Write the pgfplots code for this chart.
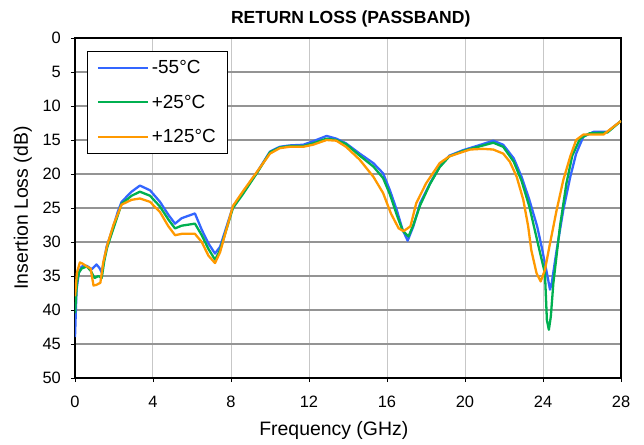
\documentclass[border=0pt]{standalone}
\usepackage{fontspec}
\setmainfont{Liberation Sans}
\usepackage{pgfplots}
\pgfplotsset{compat=1.18}
\definecolor{cBlue}{RGB}{51,102,255}
\definecolor{cGreen}{RGB}{0,176,80}
\definecolor{cOrange}{RGB}{255,153,0}
\begin{document}
\begin{tikzpicture}
\useasboundingbox (-75bp,-67bp) rectangle (569bp,378bp);
\begin{axis}[
  at={(0,0)}, anchor=south west,
  scale only axis, width=546bp, height=340bp,
  xmin=0, xmax=28, ymin=0, ymax=50, y dir=reverse,
  xtick={0,4,...,28}, ytick={0,5,...,50},
  tick pos=left, tick align=outside, major tick length=4bp,
  tick style={black, line width=0.9bp},
  axis line style={black, line width=1.8bp},
  grid=major,
  x grid style={black!22, line width=1bp},
  y grid style={black!42, line width=1.6bp},
  /pgf/number format/assume math mode=true,
  ticklabel style={font=\fontsize{16.5}{18}\selectfont},
  xticklabel style={anchor=base, yshift=-25bp},
  yticklabel style={anchor=east, inner sep=0pt, xshift=-10bp},
  title={RETURN LOSS (PASSBAND)},
  title style={font=\bfseries\fontsize{17.6}{20}\selectfont, anchor=base, at={(axis description cs:0.505,1)}, yshift=9bp},
  xlabel={Frequency (GHz)},
  xlabel style={font=\fontsize{19.5}{22}\selectfont, anchor=base, at={(axis description cs:0.474,0)}, yshift=-57.7bp},
  ylabel={Insertion Loss (dB)},
  ylabel style={font=\fontsize{19.5}{22}\selectfont, anchor=base, at={(axis description cs:-0.0861,0.5)}},
  legend style={at={(axis description cs:0.022,0.963)}, anchor=north west, draw=black, line width=1.4bp,
    font=\fontsize{19}{19}\selectfont, inner xsep=9bp, inner ysep=6bp, row sep=14bp, column sep=0bp,
    nodes={inner sep=3bp}},
  legend cell align=left,
  legend image code/.code={\draw[#1, line width=2.2bp] (0bp,0bp) -- (50bp,0bp);},
]
\addplot[cBlue, line width=2.3bp, line join=round] coordinates {
(0,44) (0.08,37) (0.2,34.5) (0.34,33.6) (0.6,33.5) (0.86,34) (1.1,33.3) (1.25,33.8) (1.37,34.5) (1.5,32.5) (1.62,30.7) (1.97,27.7) (2.2,25.5) (2.39,24.1) (2.9,22.6) (3.33,21.7) (3.85,22.4) (4.36,24.1) (4.79,26) (5.13,27.3) (5.47,26.5) (6.15,25.8) (6.5,28.2) (6.84,30.2) (7.18,31.7) (7.44,30.7) (8.1,24.8) (8.6,22.8) (9.3,19.9) (10,16.7) (10.5,16.0) (11.0,15.8) (11.7,15.7) (12.2,15.2) (12.9,14.4) (13.4,14.8) (13.9,15.5) (14.6,17) (15.3,18.4) (15.8,19.9) (16.15,22.4) (16.5,25.3) (16.8,28.2) (17.06,29.8) (17.35,27.7) (17.7,24.3) (18.2,21.4) (18.7,18.9) (19.2,17.3) (19.9,16.5) (20.8,15.7) (21.45,15.1) (21.96,15.7) (22.5,17.7) (22.9,20.4) (23.3,23.8) (23.7,27.7) (23.93,30.7) (24.2,34.6) (24.36,37) (24.45,36) (24.7,31.2) (25.04,25.3) (25.4,20.4) (25.7,17) (26.07,14.5) (26.6,13.8) (27.3,13.8) (28,12.2)
};
\addlegendentry{-55°C}
\addplot[cGreen, line width=2.3bp, line join=round] coordinates {
(0,40.5) (0.1,36) (0.2,34.5) (0.34,33.9) (0.6,33.6) (0.8,34.2) (1.0,35.3) (1.2,35.0) (1.37,35.3) (1.5,32.8) (1.65,30.8) (1.97,28) (2.39,24.4) (2.9,23.2) (3.33,22.6) (3.85,23.2) (4.36,24.8) (4.79,26.7) (5.13,28.0) (5.47,27.6) (6.15,27.3) (6.5,29.0) (6.84,31.0) (7.18,32.6) (7.44,31.2) (8.1,25.0) (8.6,23.0) (9.3,20.0) (10,16.8) (10.5,16.1) (11.0,15.9) (11.7,15.9) (12.2,15.5) (12.9,14.8) (13.4,15.0) (13.9,15.6) (14.6,17.3) (15.3,18.9) (15.8,20.6) (16.15,23.0) (16.5,26) (16.8,28.3) (17.1,29.2) (17.35,27.5) (17.7,24.6) (18.2,21.5) (18.7,19) (19.2,17.4) (19.9,16.6) (20.8,15.9) (21.45,15.4) (21.96,16.0) (22.5,18.2) (22.9,21.0) (23.3,24.8) (23.6,28.5) (23.85,31.6) (24.1,34.6) (24.2,41.5) (24.3,42.9) (24.4,41) (24.53,36.1) (24.87,27.7) (25.2,21.4) (25.5,17.3) (25.9,14.8) (26.4,14.0) (27.3,13.9) (28,12.2)
};
\addlegendentry{+25°C}
\addplot[cOrange, line width=2.3bp, line join=round] coordinates {
(0,38) (0.1,34.5) (0.25,33) (0.4,33.2) (0.6,33.6) (0.8,33.9) (0.95,36.4) (1.1,36.3) (1.3,36.0) (1.45,33) (1.65,30.5) (1.97,27.5) (2.39,24.5) (2.9,23.8) (3.33,23.6) (3.85,24.1) (4.36,25.6) (4.79,27.7) (5.13,29.0) (5.47,28.8) (6.15,28.8) (6.5,30.0) (6.84,32.0) (7.18,33.1) (7.44,31.5) (8.1,24.7) (8.6,22.6) (9.3,19.8) (10,17.0) (10.5,16.2) (11.0,16.0) (11.7,16.0) (12.2,15.7) (12.9,15.0) (13.4,15.1) (13.9,16.0) (14.6,17.9) (15.3,20.4) (15.8,22.8) (16.2,25.8) (16.6,28.0) (16.85,28.4) (17.2,27.7) (17.5,24.3) (18.0,21.4) (18.7,18.4) (19.2,17.4) (20.26,16.4) (20.9,16.3) (21.45,16.4) (21.96,17.0) (22.3,18.2) (22.65,20.4) (22.99,23.8) (23.24,27.7) (23.4,31.2) (23.67,34.6) (23.88,35.8) (24.1,34.1) (24.36,30.2) (24.7,25.3) (25.04,20.9) (25.4,17.4) (25.7,15.0) (26.07,14.2) (27.1,14.2) (28,12.2)
};
\addlegendentry{+125°C}
\end{axis}
\end{tikzpicture}
\end{document}
